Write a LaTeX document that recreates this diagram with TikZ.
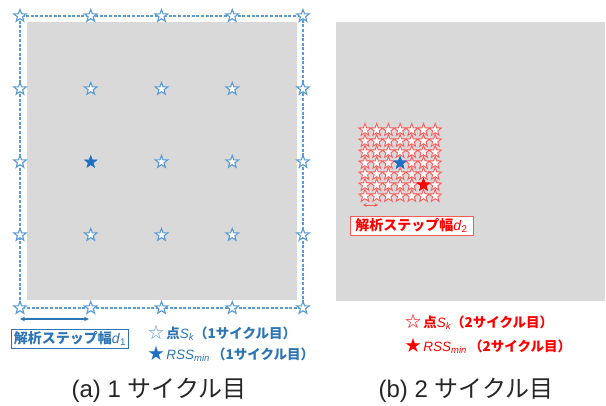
\documentclass[tikz,border=0pt]{standalone}
\usepackage{fontspec}
\setmainfont{Liberation Sans}
\newfontfamily\jp{Noto Sans CJK JP}
\usetikzlibrary{shapes.geometric,arrows.meta}
\definecolor{gbg}{HTML}{D9D9D9}
\definecolor{lblue}{HTML}{5B9BD5}
\definecolor{dblue}{HTML}{2E75B6}
\definecolor{sblue}{HTML}{1F6FC4}
\definecolor{lred}{HTML}{FF5A5A}
\definecolor{rred}{HTML}{FF0000}
\tikzset{
  basestar/.style={star, star points=5, star point ratio=2.4, inner sep=0pt, minimum size=13pt},
  hstarb/.style={basestar, draw=lblue, fill=white, line width=1.1pt},
  fstarb/.style={basestar, draw=sblue, fill=sblue, line width=0.5pt},
  hstarr/.style={basestar, minimum size=13pt, draw=lred, fill=white, line width=0.9pt},
  fstarr/.style={basestar, minimum size=13pt, draw=rred, fill=rred, line width=0.5pt},
  fstarbs/.style={basestar, minimum size=13pt, draw=sblue, fill=sblue, line width=0.5pt},
  labbox/.style={draw, fill=white, line width=0.9pt, inner sep=2pt, minimum height=19pt, font=\fontsize{14}{15}\selectfont},
  legtext/.style={anchor=west, inner sep=0pt, font=\fontsize{13.5}{15}\selectfont},
  captext/.style={inner sep=0pt, font=\fontsize{24}{26}\selectfont, text=black!85},
}
\begin{document}
\begin{tikzpicture}[x=1pt,y=-1pt]
\useasboundingbox (0,0) rectangle (606,405);
% ---------- panel (a) ----------
\fill[gbg] (27,22) rectangle (297,300);
\coordinate (dA) at (20,16);
\coordinate (dB) at (303,308);
\draw[lblue, line width=1.3pt, dash pattern=on 3pt off 1.6pt] (dA) rectangle (dB);
\foreach \i in {0,...,4}{
  \foreach \j in {0,...,4}{
    \pgfmathsetmacro{\xx}{20+\i*70.75}
    \pgfmathsetmacro{\yy}{16+\j*73}
    \ifnum\i=1 \ifnum\j=2
      \node[fstarb] (a-\i-\j) at (\xx,\yy) {};
    \else
      \node[hstarb] (a-\i-\j) at (\xx,\yy) {};
    \fi\else
      \node[hstarb] (a-\i-\j) at (\xx,\yy) {};
    \fi
  }
}
\coordinate (arL) at (20,319);
\coordinate (arR) at (89,319);
\draw[{Stealth[length=5pt,width=4.5pt]}-{Stealth[length=5pt,width=4.5pt]}, dblue, line width=1.4pt] (arL) -- (arR);
\node[labbox, draw=dblue, text=dblue, minimum width=116pt] (boxA) at (70,338.5)
  {{\jp\bfseries 解析ステップ幅}\textit{d}\textsubscript{1}};
\node[legtext, text=dblue] (legA1) at (148,333)
  {{\color{lblue}\fontsize{16}{16}\selectfont\jp ☆}\,{\jp\bfseries 点}\textit{S\textsubscript{k}}{\jp\bfseries （1サイクル目）}};
\node[legtext, text=dblue] (legA2) at (148,354)
  {{\color{sblue}\fontsize{16}{16}\selectfont\jp ★}\,\textit{RSS\textsubscript{min}}\,{\jp\bfseries （1サイクル目）}};
\node[captext] (capA) at (159,390) {(a) 1 {\jp サイクル目}};
% ---------- panel (b) ----------
\fill[gbg] (336,22) rectangle (605,301);
\foreach \i in {0,...,6}{
  \foreach \j in {0,...,6}{
    \pgfmathsetmacro{\xx}{365+\i*11.7}
    \pgfmathsetmacro{\yy}{130+\j*11}
    \ifnum\i=3 \ifnum\j=3
      \node[fstarbs] (b-\i-\j) at (\xx,\yy) {};
    \else
      \node[hstarr] (b-\i-\j) at (\xx,\yy) {};
    \fi\else
      \ifnum\i=5 \ifnum\j=5
        \node[fstarr] (b-\i-\j) at (\xx,\yy) {};
      \else
        \node[hstarr] (b-\i-\j) at (\xx,\yy) {};
      \fi\else
        \node[hstarr] (b-\i-\j) at (\xx,\yy) {};
      \fi
    \fi
  }
}
\node[fstarbs] (bblue) at (b-3-3) {};
\node[fstarr] (bred) at (b-5-5) {};
\coordinate (brL) at (363,205);
\coordinate (brR) at (378,205);
\draw[{Stealth[length=3.5pt,width=3.5pt]}-{Stealth[length=3.5pt,width=3.5pt]}, lred, line width=1pt] (brL) -- (brR);
\node[labbox, draw=lred, text=rred, minimum width=123pt] (boxB) at (411.5,225.5)
  {{\jp\bfseries 解析ステップ幅}\textit{d}\textsubscript{2}};
\node[legtext, text=rred] (legB1) at (405,322)
  {{\fontsize{16}{16}\selectfont\jp ☆}\,{\jp\bfseries 点}\textit{S\textsubscript{k}}{\jp\bfseries （2サイクル目）}};
\node[legtext, text=rred] (legB2) at (405,346)
  {{\fontsize{16}{16}\selectfont\jp ★}\,\textit{RSS\textsubscript{min}}\,{\jp\bfseries （2サイクル目）}};
\node[captext] (capB) at (466,390) {(b) 2 {\jp サイクル目}};
\end{tikzpicture}
\end{document}
